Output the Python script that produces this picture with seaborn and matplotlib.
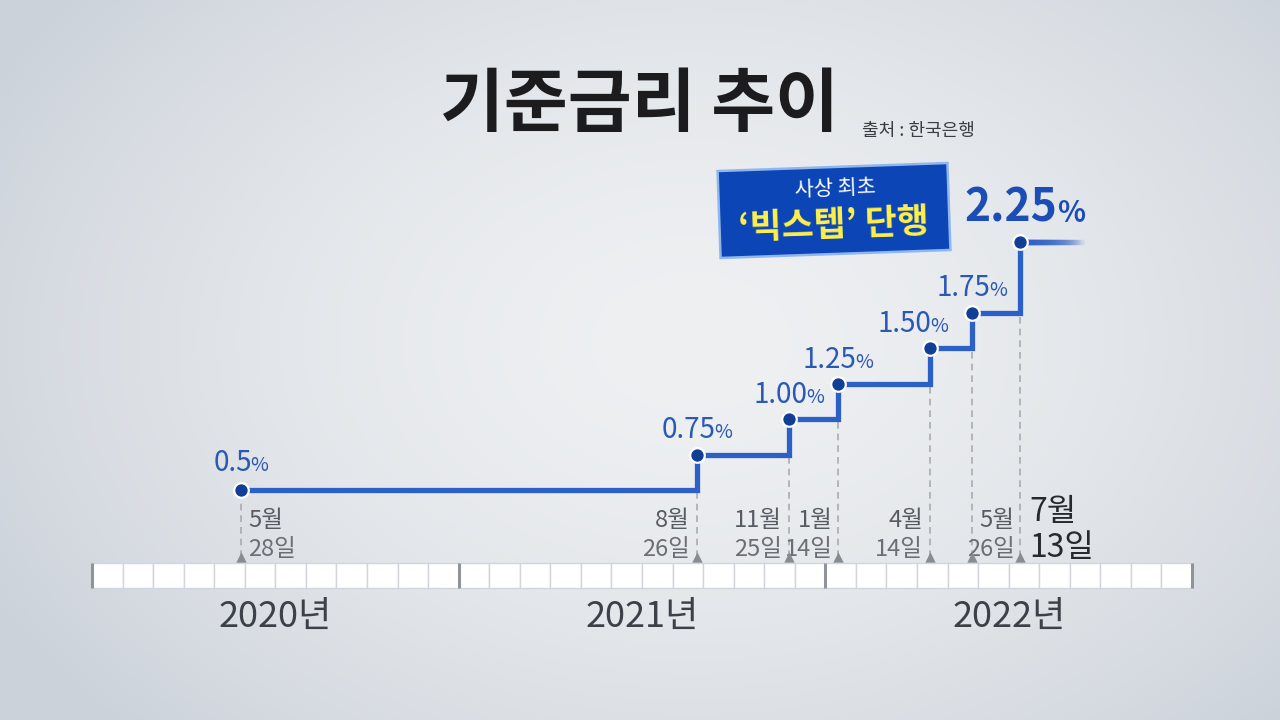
import numpy as np
import pandas as pd
import matplotlib
matplotlib.use('Agg')
import matplotlib.pyplot as plt
import matplotlib.transforms as mtransforms
from matplotlib.patches import Rectangle
import seaborn as sns

# ======================
# 데이터 (한국은행 기준금리)
# ======================
dates = ['2020-05-28', '2021-08-26', '2021-11-25', '2022-01-14',
         '2022-04-14', '2022-05-26', '2022-07-13']
rates = [0.5, 0.75, 1.00, 1.25, 1.50, 1.75, 2.25]
rate_labels = ['0.5', '0.75', '1.00', '1.25', '1.50', '1.75', '2.25']
month_labels = ['5월', '8월', '11월', '1월', '4월', '5월', '7월']
day_labels = ['28일', '26일', '25일', '14일', '14일', '26일', '13일']
years = ['2020년', '2021년', '2022년']

W, H = 1280, 720
BLUE_LINE = '#2d60c6'
BLUE_DOT = '#123f96'
BLUE_TXT = '#2a58b5'

# 2020년 1월 1일부터의 개월 수
d = pd.to_datetime(pd.Series(dates))
months = ((d.dt.year - 2020) * 12 + d.dt.month - 1 + (d.dt.day - 1) / d.dt.days_in_month).to_numpy()
df = pd.DataFrame({'month': months, 'rate': rates})

sns.set_theme(style='white')
plt.rcParams['font.family'] = ['Noto Sans CJK KR', 'DejaVu Sans']

fig = plt.figure(figsize=(W / 100, H / 100), dpi=100)
ax = fig.add_axes([0, 0, 1, 1])
ax.set_axis_off()

# 픽셀 좌표 <-> 데이터 좌표
PX_PER_MONTH = 1100 / 36
X0 = 92
def rate_at(py):
    return 0.5 + (490 - py) / 142

ax.set_xlim(-X0 / PX_PER_MONTH, (W - X0) / PX_PER_MONTH)
ax.set_ylim(rate_at(H), rate_at(0))

pix = mtransforms.Affine2D().scale(1 / W, -1 / H).translate(0, 1) + fig.transFigure
xpix = mtransforms.blended_transform_factory(ax.transData, pix)

# 배경 그라데이션
yy, xx = np.mgrid[0:H:4, 0:W:4]
r = np.sqrt(((xx - 690) / 800) ** 2 + ((yy - 340) / 560) ** 2)
r = np.clip(r, 0, 1)
c0 = np.array([238, 240, 242]) / 255
c1 = np.array([204, 210, 218]) / 255
img = c0 + (c1 - c0) * (r[..., None] ** 1.7)
ax.imshow(img, extent=[0, 1, 0, 1], transform=ax.transAxes, aspect='auto', zorder=0)

# 타임라인 막대
bar_bot, bar_top = rate_at(588), rate_at(563)
ax.bar(np.arange(36) + 0.5, bar_top - bar_bot, bottom=bar_bot, width=1,
       color='white', edgecolor='#d2d6dc', linewidth=1, zorder=2)
ax.vlines([0, 12, 24, 36], bar_bot, bar_top, colors='#8f949b', linewidth=2.2, zorder=3)
for i, y in enumerate(years):
    ax.text(6 + 12 * i, 617, y, transform=xpix, ha='center', va='center',
            fontsize=26, color='#3c4149')

# 점선 & 삼각형
ax.vlines(df['month'], rate_at(557), df['rate'], colors='#a8acb2',
          linestyles=(0, (4, 3)), linewidth=1.2, zorder=3)
ax.scatter(df['month'], [rate_at(557)] * len(df), marker='^', s=55,
           color='#878c93', zorder=4, linewidths=0)

# 계단식 금리선
sns.lineplot(data=df, x='month', y='rate', drawstyle='steps-post', color=BLUE_LINE,
             linewidth=3.8, ax=ax, zorder=4, solid_joinstyle='miter')
# 마지막 구간: 점점 흐려지는 선
line_end = 32.45
x_last = df['month'].iloc[-1]
n_fade = 30
for k in range(1, n_fade + 1):
    ax.plot([x_last, x_last + (line_end - x_last) * k / n_fade], [rates[-1], rates[-1]],
            color=BLUE_LINE, alpha=0.11, linewidth=3.8, solid_capstyle='butt', zorder=4)
sns.scatterplot(data=df, x='month', y='rate', s=110, color=BLUE_DOT, edgecolor='white',
                linewidth=1.6, ax=ax, zorder=6)

# 금리 라벨 (숫자 + 작은 %)
renderer = fig.canvas.get_renderer()
def pct_label(x, y, num, size, pct_size, color, dx=0, dy=17, weight='normal', gap=-1):
    kw = dict(xy=(x, y), xytext=(0, dy), textcoords='offset pixels', ha='left',
              va='baseline', color=color, fontweight=weight, zorder=7)
    t1 = ax.annotate(num, fontsize=size, **kw)
    t2 = ax.annotate('%', fontsize=pct_size, **kw)
    w1 = t1.get_window_extent(renderer).width
    w2 = t2.get_window_extent(renderer).width
    start = dx - (w1 + w2 + gap) / 2
    t1.xyann = (start, dy)
    t2.xyann = (start + w1 + gap, dy)

offsets = [(0, 19), (0, 17), (0, 16), (0, 16), (-17, 16), (0, 16)]
for (mx, rt, lab), (dx, dy) in zip(zip(df['month'], df['rate'], rate_labels), offsets):
    pct_label(mx, rt, lab, 20, 14, BLUE_TXT, dx=dx, dy=dy)
pct_label(x_last, rates[-1], rate_labels[-1], 32, 21, '#1c4db5',
          dx=4, dy=20, weight='semibold', gap=0)

# 날짜 라벨: (기준 점 인덱스, 정렬, x 오프셋)
label_pos = [(0, 'left', 7), (1, 'right', -7), (2, 'right', -7), (3, 'right', -5),
             (4, 'right', -7), (6, 'right', -6), (6, 'left', 9)]
for i, (ml, dl) in enumerate(zip(month_labels, day_labels)):
    idx, ha, off = label_pos[i]
    mx = df['month'].iloc[idx]
    if i == len(month_labels) - 1:
        size, c_m, c_d, y_m, y_d = 23, '#26292e', '#26292e', 521, 557
    else:
        size, c_m, c_d, y_m, y_d = 17, '#575b63', '#6a6e75', 527, 556
    ax.annotate(ml, (mx, y_m), xycoords=xpix, xytext=(off, 0), textcoords='offset pixels',
                ha=ha, va='baseline', fontsize=size, color=c_m)
    ax.annotate(dl, (mx, y_d), xycoords=xpix, xytext=(off, 0), textcoords='offset pixels',
                ha=ha, va='baseline', fontsize=size, color=c_d)

# 제목
fig.text(640, 106, '기준금리 추이', transform=pix, ha='center', va='center',
         fontsize=50, fontweight='heavy', color='#1c1c1e')
fig.text(862, 136, '출처 : 한국은행', transform=pix, ha='left', va='baseline',
         fontsize=13, color='#3a3d42')

# 강조 박스
box = Rectangle((719, 167), 230, 87, angle=-2, rotation_point='center', transform=pix,
                facecolor='#0c46b6', edgecolor='#8fb6ee', linewidth=1.8, zorder=8)
fig.patches.append(box)
fig.text(835, 189, '사상 최초', transform=pix, ha='center', va='center', rotation=2,
         fontsize=15, color='white', zorder=9)
fig.text(834, 225, '‘빅스텝’ 단행', transform=pix, ha='center', va='center', rotation=2,
         fontsize=25, fontweight='heavy', color='#fff04a', zorder=9)

fig.savefig('out.png', dpi=100)
